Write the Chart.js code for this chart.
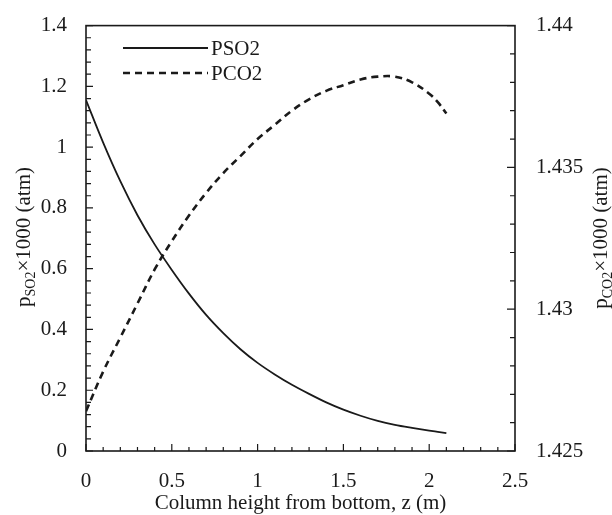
<!DOCTYPE html>
<html>
<head>
<meta charset="utf-8">
<script src="https://cdn.jsdelivr.net/npm/chart.js@4/dist/chart.umd.min.js"></script>
<style>
  body { margin: 0; background: #fff; }
  #wrap { width: 612px; height: 515px; }
</style>
</head>
<body>
<div id="wrap"><canvas id="myChart" width="612" height="515"></canvas></div>
<script>
// column height z (m)
var zValues = [0, 0.1, 0.2, 0.3, 0.4, 0.5, 0.6, 0.7, 0.8, 0.9, 1.0, 1.1, 1.2, 1.3, 1.4, 1.5, 1.6, 1.7, 1.8, 1.9, 2.0, 2.05, 2.1];
// pSO2 x1000 (atm), left axis
var pso2 = [1.155, 1.015, 0.888, 0.776, 0.680, 0.596, 0.518, 0.448, 0.388, 0.335, 0.290, 0.252, 0.218, 0.188, 0.160, 0.136, 0.116, 0.099, 0.086, 0.076, 0.067, 0.063, 0.059];
// pCO2 x1000 (atm), right axis
var pco2 = [1.4264, 1.4278, 1.4290, 1.4302, 1.4314, 1.4324, 1.4333, 1.4341, 1.4348, 1.4354, 1.4360, 1.4365, 1.4370, 1.4374, 1.4377, 1.4379, 1.4381, 1.4382, 1.4382, 1.4380, 1.4376, 1.4373, 1.4369];

var seriesLabels = ["PSO2", "PCO2"];
var xTicks = [0, 0.5, 1, 1.5, 2, 2.5];

var serif = "'Liberation Serif', 'DejaVu Serif', serif";
var ink = '#1a1a1a';

function points(ys) {
  return zValues.map(function(z, i) { return {x: z, y: ys[i]}; });
}

// inward tick marks, frame, legend and axis titles
var decor = {
  id: 'decor',
  afterDraw: function(chart) {
    var ctx = chart.ctx, a = chart.chartArea;
    var sx = chart.scales.x, sy = chart.scales.y, sy2 = chart.scales.y2;
    ctx.save();
    ctx.strokeStyle = ink;
    ctx.lineWidth = 1.6;
    ctx.strokeRect(a.left, a.top, a.right - a.left, a.bottom - a.top);

    ctx.lineWidth = 1.2;
    ctx.beginPath();
    for (var i = 0; i <= 25; i++) {
      var px = sx.getPixelForValue(i / 10);
      var len = (i % 5 === 0) ? 7 : 4;
      ctx.moveTo(px, a.bottom); ctx.lineTo(px, a.bottom - len);
    }
    for (var j = 0; j <= 35; j++) {
      var py = sy.getPixelForValue(j * 0.04);
      var l2 = (j % 5 === 0) ? 7 : 5;
      ctx.moveTo(a.left, py); ctx.lineTo(a.left + l2, py);
    }
    for (var k = 0; k <= 15; k++) {
      var py2 = sy2.getPixelForValue(1.425 + k * 0.001);
      var l3 = (k % 5 === 0) ? 8 : 5;
      ctx.moveTo(a.right, py2); ctx.lineTo(a.right - l3, py2);
    }
    ctx.stroke();

    // legend
    ctx.font = '21px ' + serif;
    ctx.fillStyle = ink;
    ctx.textBaseline = 'middle';
    ctx.textAlign = 'left';
    chart.data.datasets.forEach(function(ds, n) {
      var ly = 48 + n * 25;
      ctx.beginPath();
      ctx.lineWidth = ds.borderWidth;
      ctx.setLineDash(ds.borderDash || []);
      ctx.moveTo(123, ly); ctx.lineTo(208, ly);
      ctx.stroke();
      ctx.setLineDash([]);
      ctx.fillText(ds.label, 211, ly + 1);
    });

    // x title
    ctx.textAlign = 'center';
    ctx.fillText('Column height from bottom, z (m)', (a.left + a.right) / 2, 503);

    // rotated y titles with subscripts
    function vTitle(cx, cy, sub) {
      ctx.save();
      ctx.translate(cx, cy);
      ctx.rotate(-Math.PI / 2);
      var big = '21px ' + serif, small = '14px ' + serif;
      var parts = [['p', big, 0], [sub, small, 5], ['\u00d71000 (atm)', big, 0]];
      var total = 0;
      parts.forEach(function(p) { ctx.font = p[1]; total += ctx.measureText(p[0]).width; });
      var x = -total / 2;
      ctx.textAlign = 'left';
      ctx.textBaseline = 'alphabetic';
      parts.forEach(function(p) {
        ctx.font = p[1];
        ctx.fillText(p[0], x, 6 + p[2]);
        x += ctx.measureText(p[0]).width;
      });
      ctx.restore();
    }
    vTitle(24, 237, 'SO2');
    vTitle(601, 238, 'CO2');
    ctx.restore();
  }
};

var ctx = document.getElementById('myChart').getContext('2d');

var myChart = new Chart(ctx, {
  type: 'scatter',
  data: {
    datasets: [{
      label: seriesLabels[0],
      data: points(pso2),
      yAxisID: 'y',
      showLine: true,
      borderColor: ink,
      borderWidth: 1.8,
      pointRadius: 0,
      cubicInterpolationMode: 'monotone'
    }, {
      label: seriesLabels[1],
      data: points(pco2),
      yAxisID: 'y2',
      showLine: true,
      borderColor: ink,
      borderWidth: 2.6,
      borderDash: [7, 5],
      pointRadius: 0,
      tension: 0.4
    }]
  },
  options: {
    responsive: false,
    animation: false,
    layout: { padding: { top: 20, left: 0, right: 0, bottom: 0 } },
    plugins: { legend: { display: false }, tooltip: { enabled: false } },
    scales: {
      x: {
        type: 'linear', position: 'bottom', min: 0, max: 2.5,
        afterBuildTicks: function(s) { s.ticks = xTicks.map(function(v) { return {value: v}; }); },
        ticks: { font: { family: serif, size: 21 }, color: ink, padding: 10, maxRotation: 0,
          callback: function(v) { return Number(v.toFixed(1)).toString(); } },
        grid: { display: false }, border: { display: false },
        afterFit: function(s) { s.height = 64; }
      },
      y: {
        position: 'left', min: 0, max: 1.4,
        ticks: { stepSize: 0.2, font: { family: serif, size: 21 }, color: ink, padding: 11,
          callback: function(v) { return Number(v.toFixed(2)).toString(); } },
        grid: { display: false }, border: { display: false },
        afterFit: function(s) { s.width = 86; }
      },
      y2: {
        position: 'right', min: 1.425, max: 1.44,
        ticks: { stepSize: 0.005, font: { family: serif, size: 21 }, color: ink, padding: 13,
          callback: function(v) { return Number(v.toFixed(3)).toString(); } },
        grid: { display: false }, border: { display: false },
        afterFit: function(s) { s.width = 97; }
      }
    }
  },
  plugins: [decor]
});
</script>
</body>
</html>
